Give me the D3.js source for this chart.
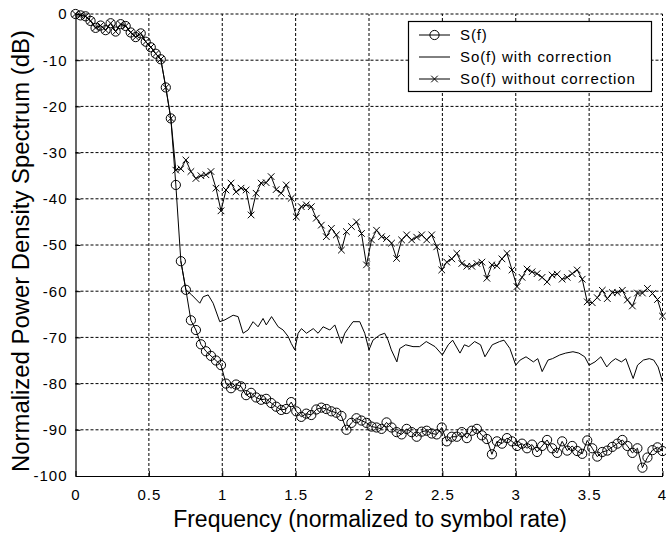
<!DOCTYPE html>
<html><head><meta charset="utf-8">
<script src="https://cdn.jsdelivr.net/npm/d3@7"></script>
<style>
body{margin:0;background:#fff}
svg{display:block}
text{font-family:"Liberation Sans",Arial,Helvetica,sans-serif;fill:#000}
</style>
</head><body>
<svg id="chart" width="666" height="533"></svg>
<script>
// ---- data ----
const xTicks = [0, 0.5, 1, 1.5, 2, 2.5, 3, 3.5, 4];
const xTickLabels = ["0", "0.5", "1", "1.5", "2", "2.5", "3", "3.5", "4"];
const yTicks = [0, -10, -20, -30, -40, -50, -60, -70, -80, -90, -100];
const yTickLabels = ["0", "-10", "-20", "-30", "-40", "-50", "-60", "-70", "-80", "-90", "-100"];
const seriesNames = ["S(f)", "So(f) with correction", "So(f) without correction"];
const xTitle = "Frequency (normalized to symbol rate)";
const yTitle = "Normalized Power Density Spectrum (dB)";

// sample frequencies (118 samples over 0..4)
const freq = d3.range(118).map(i => i * 4 / 117);

// S(f)
const sVals = [
  0, -0.3, -0.5, -1.5, -3.0, -2.5, -3.5, -2.0, -3.8, -2.2,
  -2.6, -4.0, -5.0, -4.2, -6.0, -7.2, -8.6, -9.8, -15.9, -22.6,
  -37.0, -53.5, -59.7, -66.3, -68.4, -71.5, -73.0, -74.0, -75.0, -76.0,
  -80.0, -81.0, -80.2, -80.6, -82.5, -82.0, -83.0, -83.5, -83.3, -84.2,
  -85.0, -85.7, -85.5, -84.0, -86.0, -87.2, -86.5, -86.8, -85.6, -85.2,
  -85.5, -86.0, -86.3, -87.0, -90.0, -88.5, -87.5, -88.0, -88.5, -89.3,
  -89.5, -89.8, -88.4, -89.5, -90.5, -91.0, -89.8, -90.5, -91.5, -90.4,
  -90.2, -90.8, -91.0, -89.5, -92.5, -91.5, -91.5, -90.5, -91.8, -90.2,
  -89.8, -91.2, -92.0, -95.3, -92.5, -93.0, -91.8, -92.5, -93.5, -93.0,
  -94.0, -93.2, -94.8, -93.5, -92.2, -94.0, -95.0, -92.5, -94.5, -93.5,
  -94.6, -95.2, -92.3, -94.0, -95.8, -94.8, -94.5, -93.7, -93.0, -92.2,
  -93.5, -95.0, -94.0, -98.2, -96.0, -94.4, -93.8, -94.6
];

// So(f) without correction
const woVals = [
  0, -0.3, -0.5, -1.5, -3.0, -2.5, -3.5, -2.0, -3.8, -2.2,
  -2.6, -4.0, -5.0, -4.2, -6.0, -7.2, -8.6, -9.8, -15.9, -22.6,
  -33.8, -33.5, -31.6, -34.1, -35.6, -35.0, -34.8, -34.1, -37.7, -42.6,
  -38.1, -36.6, -38.5, -37.7, -38.1, -43.5, -38.8, -36.6, -36.5, -35.2,
  -38.0, -38.8, -37.0, -39.9, -43.9, -41.7, -41.3, -41.7, -44.2, -45.7,
  -48.2, -46.4, -47.8, -51.1, -47.1, -46.0, -45.0, -47.5, -54.3, -48.9,
  -46.8, -48.2, -48.6, -49.6, -52.9, -48.9, -47.8, -48.9, -48.3, -47.8,
  -48.9, -47.8, -50.4, -55.4, -53.7, -53.0, -51.8, -54.0, -54.6, -54.6,
  -54.0, -53.7, -57.2, -54.3, -54.5, -53.0, -51.8, -55.4, -59.0, -57.0,
  -55.2, -55.8, -56.2, -57.0, -58.0, -56.5, -56.3, -57.4, -57.0, -56.2,
  -55.4, -57.4, -62.3, -62.5, -61.4, -59.8, -61.6, -60.3, -60.3, -59.8,
  -61.9, -63.2, -60.4, -60.4, -59.4, -60.5, -61.8, -65.4
];

// So(f) with correction (plain line)
const wcFreq = [
  0.718, 0.752, 0.792, 0.847, 0.870, 0.904, 0.938, 0.983, 1.018, 1.074,
  1.108, 1.142, 1.176, 1.210, 1.244, 1.278, 1.300, 1.336, 1.381, 1.415,
  1.449, 1.470, 1.494, 1.517, 1.540, 1.574, 1.620, 1.653, 1.687, 1.733,
  1.767, 1.812, 1.835, 1.857, 1.891, 1.937, 1.971, 2.000, 2.027, 2.073,
  2.107, 2.130, 2.152, 2.190, 2.210, 2.250, 2.300, 2.345, 2.390, 2.450,
  2.500, 2.540, 2.570, 2.620, 2.650, 2.680, 2.720, 2.760, 2.790, 2.840,
  2.890, 2.920, 2.960, 3.000, 3.030, 3.070, 3.120, 3.150, 3.180, 3.220,
  3.250, 3.300, 3.340, 3.390, 3.430, 3.470, 3.500, 3.540, 3.580, 3.620,
  3.650, 3.680, 3.720, 3.750, 3.800, 3.830, 3.870, 3.910, 3.940, 3.970,
  4.000
];
const wcVals = [
  -53.5, -59.7, -60.8, -62.6, -61.2, -60.8, -62.6, -66.6, -66.2, -65.2,
  -65.5, -69.1, -68.4, -66.6, -67.7, -65.9, -67.3, -65.5, -67.7, -68.4,
  -69.8, -71.3, -72.7, -69.1, -68.1, -69.1, -68.1, -69.1, -67.7, -68.4,
  -67.3, -71.3, -69.1, -68.1, -66.6, -66.6, -69.1, -72.7, -70.6, -69.5,
  -69.1, -70.6, -72.7, -75.3, -72.4, -71.6, -72.0, -72.0, -70.9, -72.0,
  -73.8, -71.6, -70.6, -73.4, -71.6, -72.0, -70.9, -71.6, -74.2, -71.6,
  -70.9, -70.6, -72.4, -76.0, -74.9, -74.2, -75.3, -74.6, -77.4, -74.9,
  -74.6, -73.8, -73.4, -73.1, -73.4, -74.2, -76.0, -75.3, -74.2, -76.4,
  -75.3, -74.6, -75.3, -74.6, -78.9, -76.0, -74.9, -74.6, -74.9, -76.4,
  -79.6
];

// ---- chart ----
const svg = d3.select("#chart");
const x = d3.scaleLinear().domain([0, 4]).range([75.5, 662.5]);
const y = d3.scaleLinear().domain([-100, 0]).range([476, 14]);

const sData = freq.map((f, i) => [f, sVals[i]]);
const woData = freq.map((f, i) => [f, woVals[i]]);
const wcData = d3.zip(wcFreq, wcVals);

// grid
const grid = svg.append("g").attr("stroke", "#000").attr("stroke-width", 1)
  .attr("stroke-dasharray", "3,2").attr("fill", "none");
xTicks.filter(t => t !== 0).forEach(t => {
  grid.append("line").attr("x1", x(t)).attr("x2", x(t)).attr("y1", y(-100)).attr("y2", y(0));
});
yTicks.filter(t => t !== -100).forEach(t => {
  grid.append("line").attr("x1", x(0)).attr("x2", x(4)).attr("y1", y(t)).attr("y2", y(t));
});

// axes
const xAxis = d3.axisBottom(x).tickValues(xTicks).tickFormat((d, i) => xTickLabels[i])
  .tickSizeInner(-5).tickSizeOuter(0).tickPadding(10);
const yAxis = d3.axisLeft(y).tickValues(yTicks).tickFormat((d, i) => yTickLabels[i])
  .tickSizeInner(-5).tickSizeOuter(0).tickPadding(8);
const gx = svg.append("g").attr("transform", `translate(0,${y(-100)})`).call(xAxis);
const gy = svg.append("g").attr("transform", `translate(${x(0)},0)`).call(yAxis);
[gx, gy].forEach(g => {
  g.select(".domain").attr("stroke", "#000").attr("stroke-width", 1.2);
  g.selectAll(".tick line").attr("stroke", "#000");
  g.selectAll(".tick text").style("font-size", "15px").style("letter-spacing", "1px").attr("fill", "#000");
});
gx.selectAll(".tick text").attr("dy", "0.95em");
// keep the last x label inside the picture
gx.selectAll(".tick text").filter((d, i) => i === xTicks.length - 1)
  .attr("text-anchor", "end").attr("x", 3).style("letter-spacing", "0px");

// lines
const line = d3.line().x(d => x(d[0])).y(d => y(d[1]));
const plot = svg.append("g");
plot.append("path").datum(sData).attr("d", line).attr("fill", "none").attr("stroke", "#000").attr("stroke-width", 1);
plot.append("g").selectAll("circle").data(sData).join("circle")
  .attr("cx", d => x(d[0])).attr("cy", d => y(d[1])).attr("r", 4.6)
  .attr("fill", "none").attr("stroke", "#000").attr("stroke-width", 1);
plot.append("path").datum(wcData).attr("d", line).attr("fill", "none").attr("stroke", "#000").attr("stroke-width", 1);
plot.append("path").datum(woData).attr("d", line).attr("fill", "none").attr("stroke", "#000").attr("stroke-width", 1);
const xm = 3.3;
const crossPath = (cx, cy) => `M${cx - xm},${cy - xm}L${cx + xm},${cy + xm}M${cx - xm},${cy + xm}L${cx + xm},${cy - xm}`;
plot.append("g").selectAll("path").data(woData).join("path")
  .attr("d", d => crossPath(x(d[0]), y(d[1])))
  .attr("stroke", "#000").attr("stroke-width", 1).attr("fill", "none");

// legend
const lg = svg.append("g");
lg.append("rect").attr("x", 408.5).attr("y", 21.5).attr("width", 243).attr("height", 70)
  .attr("fill", "#fff").attr("stroke", "#000").attr("stroke-width", 1.2);
const rows = [35, 57, 79];
seriesNames.forEach((name, i) => {
  const ry = rows[i];
  lg.append("line").attr("x1", 419).attr("x2", 450).attr("y1", ry).attr("y2", ry)
    .attr("stroke", "#000").attr("stroke-width", 1);
  if (i === 0) lg.append("circle").attr("cx", 434.5).attr("cy", ry).attr("r", 4.6)
    .attr("fill", "none").attr("stroke", "#000");
  if (i === 2) lg.append("path").attr("d", crossPath(434.5, ry)).attr("stroke", "#000").attr("fill", "none");
  lg.append("text").attr("x", 460).attr("y", ry).attr("dy", "0.36em")
    .style("font-size", "15px").style("letter-spacing", "0.9px").text(name);
});

// titles
function fitText(sel, target) {
  const w = sel.node().getComputedTextLength();
  const fs = parseFloat(sel.style("font-size"));
  sel.style("font-size", (fs * target / w) + "px");
}
const xt = svg.append("text").attr("x", 370).attr("y", 527).attr("text-anchor", "middle")
  .style("font-size", "20px").text(xTitle);
fitText(xt, 394);
const yt = svg.append("text").attr("transform", "translate(29,251) rotate(-90)").attr("text-anchor", "middle")
  .style("font-size", "20px").text(yTitle);
fitText(yt, 442);
</script>
</body></html>
